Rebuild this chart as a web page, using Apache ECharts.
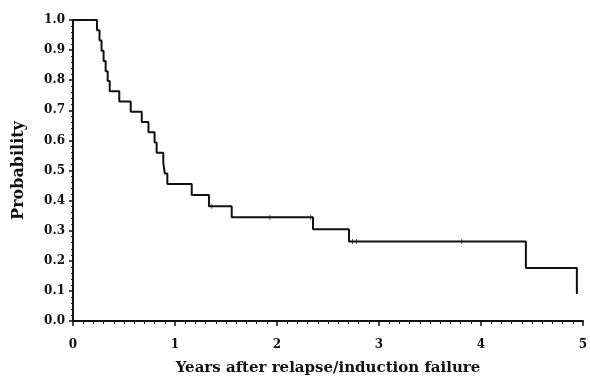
<!DOCTYPE html>
<html>
<head>
<meta charset="utf-8">
<script src="https://cdn.jsdelivr.net/npm/echarts@6/dist/echarts.min.js"></script>
<style>
html,body{margin:0;padding:0;background:#fff;}
#c{width:590px;height:380px;}
</style>
</head>
<body>
<div id="c"></div>
<script>
// Kaplan-Meier step curve: time of each step (years) and survival probability after it
const stepTimes = [0, 0.235, 0.26, 0.28, 0.30, 0.32, 0.34, 0.36, 0.454, 0.566, 0.674, 0.74, 0.80, 0.82, 0.885, 0.90, 0.925, 1.164, 1.333, 1.556, 2.353, 2.706, 4.44, 4.94];
const survival  = [1.0, 0.966, 0.932, 0.898, 0.864, 0.830, 0.797, 0.763, 0.729, 0.695, 0.661, 0.627, 0.593, 0.559, 0.525, 0.490, 0.455, 0.419, 0.381, 0.345, 0.305, 0.264, 0.176, 0.090];
// censored observations
const censorTimes  = [1.36, 1.93, 2.33, 2.74, 2.78, 3.81];
const censorValues = [0.381, 0.345, 0.345, 0.264, 0.264, 0.264];
const xTicks = [0, 1, 2, 3, 4, 5];
const yTicks = ['0.0','0.1','0.2','0.3','0.4','0.5','0.6','0.7','0.8','0.9','1.0'];

const kmData = stepTimes.map((t, i) => [t, survival[i]]);
const censorData = censorTimes.map((t, i) => [t, censorValues[i]]);
const serif = "'DejaVu Serif', serif";

const chart = echarts.init(document.getElementById('c'), null, {renderer: 'canvas'});
chart.setOption({
  animation: false,
  backgroundColor: '#fff',
  grid: {left: 73, right: 7, top: 20, bottom: 59, containLabel: false, outerBoundsMode: 'none'},
  xAxis: {
    type: 'value', min: 0, max: 5, interval: 1,
    name: 'Years after relapse/induction failure',
    nameLocation: 'middle', nameGap: 40,
    nameTextStyle: {fontFamily: serif, fontSize: 15, fontWeight: 'bold', color: '#111'},
    axisLine: {lineStyle: {color: '#111', width: 2}},
    axisTick: {length: 5, lineStyle: {color: '#111', width: 1.5}},
    minorTick: {show: true, splitNumber: 10, length: 3, lineStyle: {color: '#222', width: 1}},
    axisLabel: {fontFamily: serif, fontSize: 12, fontWeight: 'bold', color: '#111', margin: 18,
      formatter: v => xTicks.includes(v) ? String(v) : ''},
    splitLine: {show: false}
  },
  yAxis: {
    type: 'value', min: 0, max: 1, interval: 0.1,
    name: 'Probability',
    nameLocation: 'middle', nameGap: 46, nameRotate: 90,
    nameTextStyle: {fontFamily: serif, fontSize: 16, fontWeight: 'bold', color: '#111'},
    axisLine: {lineStyle: {color: '#111', width: 2}},
    axisTick: {length: 4, lineStyle: {color: '#111', width: 1.5}},
    minorTick: {show: true, splitNumber: 5, length: 2, lineStyle: {color: '#222', width: 1}},
    axisLabel: {fontFamily: serif, fontSize: 12, fontWeight: 'bold', color: '#111', margin: 8,
      formatter: v => yTicks[Math.round(v * 10)]},
    splitLine: {show: false}
  },
  series: [
    {
      type: 'line', step: 'end', data: kmData, showSymbol: false,
      lineStyle: {color: '#111', width: 2}
    },
    {
      type: 'scatter', data: censorData, symbol: 'rect', symbolSize: [1, 5],
      itemStyle: {color: '#333'}
    }
  ]
});
</script>
</body>
</html>
